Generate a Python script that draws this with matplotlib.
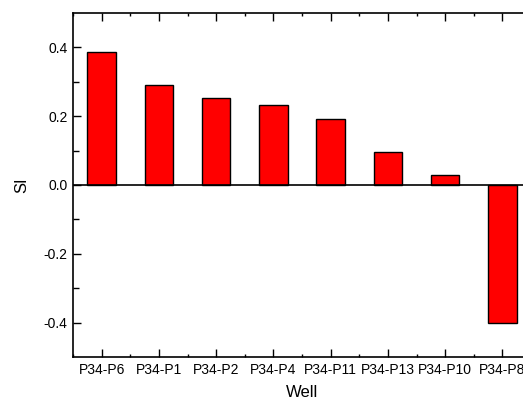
import matplotlib.pyplot as plt

plt.rcParams['font.family'] = ['Liberation Sans', 'DejaVu Sans']

wells = ['P34-P6', 'P34-P1', 'P34-P2', 'P34-P4', 'P34-P11', 'P34-P13', 'P34-P10', 'P34-P8']
si = [0.386, 0.290, 0.253, 0.232, 0.191, 0.097, 0.028, -0.400]

fig = plt.figure(figsize=(5.23, 4.07), dpi=100)
# axes runs slightly past the right edge, like the reference
ax = fig.add_axes([73 / 523, 50 / 407, 458 / 523, 344 / 407])

x = range(len(wells))
ax.bar(x, si, width=0.5, color='#ff0000', edgecolor='black', linewidth=1, zorder=2)
ax.axhline(0, color='black', linewidth=1.2, zorder=3)

ax.set_xlim(-0.5, len(wells) - 0.5)
ax.set_ylim(-0.5, 0.5)
ax.set_xticks(list(x))
ax.set_xticklabels(wells, fontsize=10)
ax.set_xticks([i + 0.5 for i in range(-1, len(wells))], minor=True)
ax.set_yticks([-0.4, -0.2, 0.0, 0.2, 0.4])
ax.set_yticklabels(['-0.4', '-0.2', '0.0', '0.2', '0.4'], fontsize=10)
ax.set_yticks([-0.3, -0.1, 0.1, 0.3], minor=True)

ax.tick_params(axis='x', which='major', direction='in', length=6, width=1, top=True, pad=4)
ax.tick_params(axis='x', which='minor', direction='in', length=2, width=1, top=True)
ax.tick_params(axis='y', which='major', direction='in', length=6, width=1, pad=4)
ax.tick_params(axis='y', which='minor', direction='in', length=4, width=1)
ax.tick_params(axis='x', which='major', top=True)

for s in ax.spines.values():
    s.set_linewidth(1.2)
ax.spines['right'].set_visible(False)

ax.set_xlabel('Well', fontsize=12, labelpad=6)
ax.set_ylabel('SI', fontsize=12, labelpad=10)

fig.savefig('out.png', dpi=100)
